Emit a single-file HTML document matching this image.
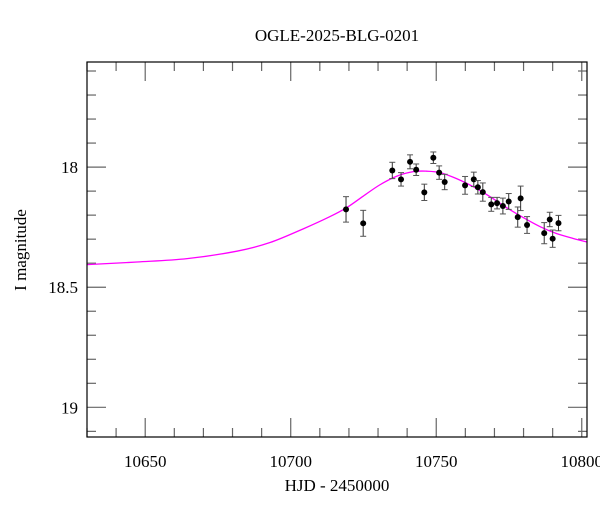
<!DOCTYPE html>
<html><head><meta charset="utf-8"><style>
html,body{margin:0;padding:0;background:#fff;}
svg text{font-family:"Liberation Serif",serif;fill:#000;}
</style></head><body>
<svg id="chart" width="600" height="512" viewBox="0 0 600 512" xmlns="http://www.w3.org/2000/svg">
<text x="337" y="41" text-anchor="middle" font-size="17">OGLE-2025-BLG-0201</text>
<text x="337" y="491" text-anchor="middle" font-size="17">HJD - 2450000</text>
<text x="0" y="0" transform="translate(26,250) rotate(-90)" text-anchor="middle" font-size="17">I magnitude</text>
<g id="ticks"></g>
<g id="plot"></g>
<rect x="87" y="62" width="500" height="375" fill="none" stroke="#000" stroke-width="1.2"/>
</svg>
<script>
const hjd = [10719.0,10724.9,10734.9,10737.9,10741.0,10743.1,10745.9,10749.0,10751.0,10752.9,10759.9,10762.9,10764.3,10766.0,10768.9,10770.9,10772.9,10774.9,10778.0,10779.0,10781.2,10787.1,10789.0,10790.0,10792.0];
const mag = [18.176,18.234,18.014,18.051,17.978,18.011,18.105,17.961,18.023,18.062,18.076,18.051,18.084,18.104,18.155,18.150,18.162,18.143,18.208,18.130,18.241,18.275,18.218,18.298,18.233];
const magErr = [0.053,0.054,0.034,0.028,0.029,0.024,0.034,0.024,0.028,0.032,0.037,0.030,0.028,0.038,0.029,0.024,0.033,0.033,0.042,0.051,0.035,0.044,0.030,0.036,0.032];
const modelT = [10630,10647.2,10664.4,10681.5,10692.9,10704.5,10713.5,10719.2,10724.9,10730.6,10736.4,10742.1,10746.7,10751.3,10757.0,10762.8,10768.5,10774.2,10779.9,10785.7,10791.4,10797.1,10801.8];
const modelMag = [18.406,18.395,18.381,18.350,18.314,18.256,18.206,18.169,18.121,18.074,18.038,18.019,18.017,18.023,18.048,18.082,18.123,18.169,18.210,18.248,18.277,18.297,18.312];
const xTicks = [10650,10700,10750,10800];
const yTicks = [18,18.5,19];

const L=87,R=587,T=62,B=437;
const X0=10630,X1=10801.8,Y0=17.5625,Y1=19.1235;
const xs=t=>L+(t-X0)/(X1-X0)*(R-L);
const ys=m=>T+(m-Y0)/(Y1-Y0)*(B-T);
const NS='http://www.w3.org/2000/svg';
function mk(tag,attrs,parent){const e=document.createElementNS(NS,tag);for(const k in attrs)e.setAttribute(k,attrs[k]);parent.appendChild(e);return e;}
const tg=document.getElementById('ticks'), pg=document.getElementById('plot');

// x ticks
for(let v=10630;v<=10801;v+=10){
  const x=xs(v), major=(v%50===0), len=major?19:9;
  const a=mk('line',{x1:x,x2:x,y1:B,y2:B-len,stroke:'#666','stroke-width':1.2},tg);
  
  
  const b=mk('line',{x1:x,x2:x,y1:T,y2:T+len,stroke:'#666','stroke-width':1.2},tg);
  
  
}
xTicks.forEach(v=>{
  const t=mk('text',{x:xs(v),y:467,'text-anchor':'middle','font-size':17},tg);
  t.textContent=String(v);
  
  
});
// y ticks
for(let i=6;i<=31;i++){
  const v=i/10; const m=17+v/ (1) - 17 + 17; 
}
for(let k=176;k<=191;k++){
  const v=k/10, y=ys(v); if(y<T||y>B) continue;
  const major=(k%5===0), len=major?19:9;
  const a=mk('line',{x1:L,x2:L+len,y1:y,y2:y,stroke:'#666','stroke-width':1.2},tg);
  
  
  const b=mk('line',{x1:R,x2:R-len,y1:y,y2:y,stroke:'#666','stroke-width':1.2},tg);
  
  
}
yTicks.forEach(v=>{
  const t=mk('text',{x:78,y:ys(v)+6,'text-anchor':'end','font-size':17},tg);
  t.textContent=String(v);
  
  
});

// model curve (Catmull-Rom)
const P=modelT.map((t,i)=>[xs(t),ys(modelMag[i])]);
let d='M'+P[0][0]+','+P[0][1];
for(let i=0;i<P.length-1;i++){
  const p0=P[Math.max(0,i-1)],p1=P[i],p2=P[i+1],p3=P[Math.min(P.length-1,i+2)];
  const c1=[p1[0]+(p2[0]-p0[0])/6,p1[1]+(p2[1]-p0[1])/6];
  const c2=[p2[0]-(p3[0]-p1[0])/6,p2[1]-(p3[1]-p1[1])/6];
  d+=` C${c1[0]},${c1[1]} ${c2[0]},${c2[1]} ${p2[0]},${p2[1]}`;
}
const curve=mk('path',{d:d,fill:'none',stroke:'#ff00ff','stroke-width':1.3},pg);



// data points
hjd.forEach((t,i)=>{
  const x=xs(t), y=ys(mag[i]), y1=ys(mag[i]-magErr[i]), y2=ys(mag[i]+magErr[i]);
  const g=mk('g',{},pg);
  
  
  mk('line',{x1:x,x2:x,y1:y1,y2:y2,stroke:'#333','stroke-width':1},g);
  mk('line',{x1:x-3,x2:x+3,y1:y1,y2:y1,stroke:'#555','stroke-width':1},g);
  mk('line',{x1:x-3,x2:x+3,y1:y2,y2:y2,stroke:'#555','stroke-width':1},g);
  mk('circle',{cx:x,cy:y,r:3,fill:'#000'},g);
});
</script>
</body></html>
